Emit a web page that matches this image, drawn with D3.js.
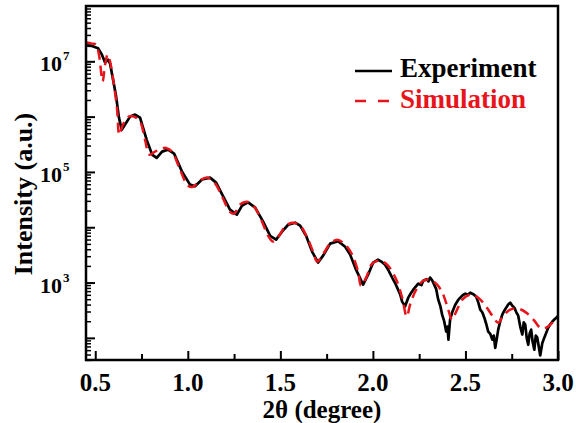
<!DOCTYPE html>
<html>
<head>
<meta charset="utf-8">
<script src="https://cdn.jsdelivr.net/npm/d3@7"></script>
<style>
  body { margin: 0; background: #fff; }
  text { font-family: "Liberation Serif", "Times New Roman", serif; font-weight: bold; }
</style>
</head>
<body>
<svg id="chart"></svg>
<script>
// reflectivity curve, 2theta in degree vs intensity (a.u.)
var expX = [0.454, 0.482, 0.515, 0.536, 0.553, 0.569, 0.580, 0.596, 0.612, 0.628, 0.643, 0.661, 0.688, 0.715, 0.742, 0.778,
  0.807, 0.832, 0.861, 0.893, 0.926, 0.969, 1.012, 1.039, 1.077, 1.120, 1.153, 1.191, 1.228, 1.265, 1.293, 1.326,
  1.364, 1.407, 1.445, 1.477, 1.509, 1.542, 1.580, 1.607, 1.639, 1.672, 1.704, 1.731, 1.769, 1.812, 1.850, 1.877,
  1.909, 1.947, 1.974, 2.001, 2.028, 2.045, 2.066, 2.085, 2.104, 2.120, 2.136, 2.148, 2.158, 2.174, 2.191, 2.205,
  2.218, 2.245, 2.262, 2.272, 2.290, 2.300, 2.309, 2.320, 2.331, 2.342, 2.353, 2.364, 2.374, 2.385, 2.396, 2.403, 2.408, 2.417,
  2.430, 2.445, 2.460, 2.472, 2.485, 2.499, 2.512, 2.526, 2.545, 2.558, 2.570, 2.580, 2.591, 2.602, 2.612, 2.623, 2.634, 2.645,
  2.653, 2.661, 2.670, 2.677, 2.688, 2.699, 2.710, 2.720, 2.731, 2.742, 2.753, 2.764, 2.775, 2.785, 2.796, 2.807,
  2.815, 2.823, 2.831, 2.839, 2.847, 2.855, 2.863, 2.872, 2.880, 2.888, 2.896, 2.904, 2.915, 2.926, 2.937, 2.947,
  2.958, 2.969, 2.980, 2.991, 3.000];
var expY = [1.92e7, 1.90e7, 1.73e7, 1.32e7, 9.5e6, 1.07e7, 9.1e6, 4.67e6, 2.4e6, 9.6e5, 5.8e5, 7.2e5, 1.0e6, 1.09e6, 9.6e5, 3.8e5,
  2.06e5, 1.79e5, 2.33e5, 2.53e5, 2.14e5, 1.01e5, 5.9e4, 5.5e4, 7.3e4, 7.9e4, 6.4e4, 3.6e4, 2.08e4, 1.69e4, 2.46e4, 2.82e4,
  2.26e4, 1.26e4, 7.0e3, 5.97e3, 8.3e3, 1.11e4, 1.21e4, 1.07e4, 7.0e3, 3.6e3, 2.3e3, 3.07e3, 5.06e3, 5.6e3, 4.45e3, 3.2e3,
  1.71e3, 916, 1390, 2290, 2600, 2400, 2100, 1650, 1230, 980, 745, 600, 452, 372, 533, 640,
  745, 955, 900, 1080, 1150, 1050, 1230, 1100, 916, 760, 491, 380, 263, 200, 130, 160, 93, 214,
  300, 398, 480, 533, 590, 630, 600, 656, 610, 556, 430, 324, 290, 232, 180, 130, 118, 93,
  110, 66, 100, 141, 200, 263, 310, 352, 400, 434, 380, 352, 290, 252, 160, 115,
  190, 174, 100, 75, 120, 141, 85, 61, 110, 101, 70, 48, 80, 101, 125, 153,
  175, 196, 215, 232, 250];

var simX = [0.450, 0.482, 0.504, 0.520, 0.540, 0.553, 0.567, 0.580, 0.601, 0.618, 0.630, 0.650, 0.684, 0.709, 0.742, 0.769,
  0.792, 0.823, 0.882, 0.915, 0.958, 1.001, 1.028, 1.066, 1.104, 1.147, 1.185, 1.228, 1.250, 1.282, 1.320, 1.358,
  1.401, 1.434, 1.461, 1.493, 1.526, 1.564, 1.607, 1.645, 1.677, 1.699, 1.726, 1.769, 1.807, 1.850, 1.888, 1.920,
  1.936, 1.964, 1.996, 2.039, 2.082, 2.126, 2.158, 2.183, 2.201, 2.234, 2.272, 2.309, 2.347, 2.380, 2.407, 2.427,
  2.450, 2.483, 2.526, 2.569, 2.612, 2.645, 2.677, 2.704, 2.742, 2.785, 2.828, 2.872, 2.904, 2.936, 2.969, 2.996];
var simY = [2.18e7, 2.09e7, 2.0e7, 1.32e7, 4.35e6, 8.7e6, 1.32e7, 9.9e6, 3.8e6, 1.34e6, 4.7e5, 7.2e5, 1.01e6, 1.0e6, 8.1e5, 3.8e5,
  2.06e5, 2.33e5, 2.72e5, 2.33e5, 1.1e5, 5.65e4, 5.4e4, 7.0e4, 7.9e4, 6.2e4, 3.6e4, 1.9e4, 1.76e4, 2.57e4, 2.9e4, 2.36e4,
  1.26e4, 7.0e3, 5.5e3, 7.0e3, 1.03e4, 1.21e4, 1.07e4, 6.5e3, 3.6e3, 2.4e3, 3.07e3, 5.06e3, 5.97e3, 4.85e3, 3.2e3, 1.57e3,
  880, 1230, 2200, 2490, 2020, 1130, 533, 242, 398, 745, 1080, 1130, 916, 604, 324, 214,
  298, 491, 604, 533, 366, 252, 188, 252, 324, 337, 286, 205, 153, 153, 188, 232];

var xTicks = [0.5, 1.0, 1.5, 2.0, 2.5, 3.0];
var xMinor = [0.75, 1.25, 1.75, 2.25, 2.75];
var yMajor = [1e2, 1e3, 1e4, 1e5, 1e6, 1e7];
var yLabelExp = [3, 5, 7];

var width = 576, height = 423;
var margin = {top: 6, right: 18, bottom: 63, left: 86};
var w = width - margin.left - margin.right;
var h = height - margin.top - margin.bottom;

var svg = d3.select("#chart").attr("width", width).attr("height", height);
var g = svg.append("g").attr("transform", "translate(" + margin.left + "," + margin.top + ")");

var x = d3.scaleLinear().domain([0.45, 3.0]).range([0, w]);
var y = d3.scaleLog().domain([Math.pow(10, 1.6), 1e8]).range([h, 0]);

// minor log ticks
var yMinor = [];
d3.range(1, 8).forEach(function(n) {
  d3.range(2, 10).forEach(function(k) {
    var v = k * Math.pow(10, n);
    if (v >= y.domain()[0] && v <= y.domain()[1]) yMinor.push(v);
  });
});

g.append("defs").append("clipPath").attr("id", "clip")
  .append("rect").attr("width", w).attr("height", h);

// ticks pointing inward
g.append("g")
  .call(d3.axisLeft(y).tickValues(yMajor).tickSize(-9).tickFormat(""))
  .call(a => a.select(".domain").remove())
  .selectAll("line").attr("stroke-width", 2);
g.append("g")
  .call(d3.axisLeft(y).tickValues(yMinor).tickSize(-5).tickFormat(""))
  .call(a => a.select(".domain").remove())
  .selectAll("line").attr("stroke-width", 1.5);
g.append("g").attr("transform", "translate(0," + h + ")")
  .call(d3.axisBottom(x).tickValues(xTicks).tickSize(-9).tickFormat(""))
  .call(a => a.select(".domain").remove())
  .selectAll("line").attr("stroke-width", 2);
g.append("g").attr("transform", "translate(0," + h + ")")
  .call(d3.axisBottom(x).tickValues(xMinor).tickSize(-6).tickFormat(""))
  .call(a => a.select(".domain").remove())
  .selectAll("line").attr("stroke-width", 2);

// tick labels
g.selectAll(".xlab").data(xTicks).enter().append("text")
  .attr("x", d => x(d)).attr("y", h + 31)
  .attr("text-anchor", "middle")
  .style("font-size", "25px")
  .text(d => d.toFixed(1));

g.selectAll(".ylab").data(yLabelExp).enter().append("text")
  .attr("x", -24).attr("y", d => y(Math.pow(10, d)) + 10)
  .attr("text-anchor", "end")
  .style("font-size", "22px")
  .text("10");
g.selectAll(".ysup").data(yLabelExp).enter().append("text")
  .attr("x", -23).attr("y", d => y(Math.pow(10, d)) - 1)
  .style("font-size", "13px")
  .text(d => d);

// curves
var expData = expX.map((d, i) => [d, expY[i]]);
var simData = simX.map((d, i) => [d, simY[i]]);

var plot = g.append("g").attr("clip-path", "url(#clip)");
plot.append("path").datum(expData)
  .attr("fill", "none").attr("stroke", "#000").attr("stroke-width", 2.7)
  .attr("stroke-linejoin", "round")
  .attr("d", d3.line().x(d => x(d[0])).y(d => y(d[1])));
plot.append("path").datum(simData)
  .attr("fill", "none").attr("stroke", "#e8141b").attr("stroke-width", 2.5)
  .attr("stroke-dasharray", "10,6")
  .attr("d", d3.line().curve(d3.curveCatmullRom).x(d => x(d[0])).y(d => y(d[1])));

// frame
g.append("rect").attr("width", w).attr("height", h)
  .attr("fill", "none").attr("stroke", "#000").attr("stroke-width", 2.5);

// axis titles
svg.append("text")
  .attr("x", margin.left + w / 2).attr("y", 418)
  .attr("text-anchor", "middle")
  .style("font-size", "25px")
  .text("2θ (degree)");
svg.append("text")
  .attr("transform", "translate(32," + 194 + ") rotate(-90)")
  .attr("text-anchor", "middle")
  .style("font-size", "26px")
  .text("Intensity (a.u.)");

// legend
var legend = svg.append("g");
legend.append("line").attr("x1", 355).attr("x2", 392).attr("y1", 71).attr("y2", 71)
  .attr("stroke", "#000").attr("stroke-width", 2.5);
legend.append("text").attr("x", 400).attr("y", 77).style("font-size", "27px").text("Experiment");
legend.append("line").attr("x1", 355).attr("x2", 391).attr("y1", 101).attr("y2", 101)
  .attr("stroke", "#e8141b").attr("stroke-width", 2.5).attr("stroke-dasharray", "11,12");
legend.append("text").attr("x", 400).attr("y", 108).style("font-size", "27px")
  .attr("fill", "#e8141b").text("Simulation");
</script>
</body>
</html>
